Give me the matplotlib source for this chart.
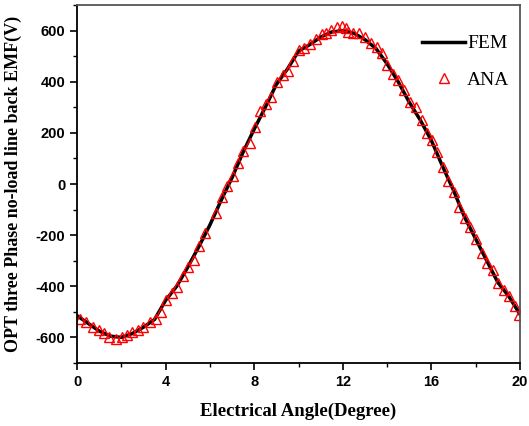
import numpy as np
import matplotlib.pyplot as plt

plt.rcParams['axes.unicode_minus'] = False

# FEM curve
fem_x = [0, 0.5, 1.0, 1.5, 2.0, 2.5, 3.0, 3.5, 4.0, 4.5, 5.0, 5.5, 6.0, 6.5, 7.0,
         7.5, 8.0, 8.5, 9.0, 9.5, 10.0, 10.5, 11.0, 11.5, 12.0, 12.5, 13.0, 13.5,
         14.0, 14.5, 15.0, 15.5, 16.0, 16.5, 17.0, 17.5, 18.0, 18.5, 19.0, 19.5, 20.0]
fem_y = [-515, -545, -575, -595, -600, -585, -560, -530, -455, -400, -325, -245,
         -160, -65, 25, 125, 215, 300, 390, 450, 520, 545, 575, 595, 600, 590, 565,
         530, 470, 400, 320, 250, 170, 70, -25, -130, -215, -300, -385, -440, -510]

# analytical points
ana_x = [0.15, 0.41, 0.71, 1.0, 1.23, 1.46, 1.76, 2.02, 2.24, 2.47, 2.74, 2.99,
         3.3, 3.57, 3.78, 4.02, 4.27, 4.5, 4.77, 5.03, 5.27, 5.5, 5.77, 6.28, 6.53,
         6.76, 7.02, 7.28, 7.51, 7.8, 8.04, 8.27, 8.51, 8.75, 9.05, 9.3, 9.54, 9.77,
         10.02, 10.25, 10.52, 10.79, 11.05, 11.24, 11.45, 11.72, 11.95, 12.14,
         12.25, 12.47, 12.75, 13.0, 13.26, 13.53, 13.76, 14.01, 14.25, 14.51,
         14.76, 15.03, 15.3, 15.56, 15.81, 16.01, 16.26, 16.51, 16.76, 17.02,
         17.26, 17.52, 17.74, 18.01, 18.27, 18.52, 18.77, 19.02, 19.28, 19.52,
         19.77, 19.95]
ana_y = [-527, -538, -560, -570, -581, -599, -607, -599, -589, -578, -570, -561,
         -538, -529, -500, -455, -428, -401, -359, -323, -297, -242, -193, -114,
         -52, -8, 31, 81, 131, 160, 222, 284, 312, 341, 398, 428, 444, 482, 526,
         534, 547, 569, 586, 591, 602, 614, 617, 612, 595, 589, 591, 575, 552, 536,
         513, 465, 430, 406, 367, 321, 300, 250, 200, 172, 124, 65, 13, -30, -89,
         -134, -169, -216, -268, -307, -336, -388, -414, -437, -477, -512]

fig = plt.figure(figsize=(5.29, 4.26), dpi=100)
ax = fig.add_axes([0.1456, 0.148, 0.8374, 0.840])

ax.plot(fem_x, fem_y, color='black', lw=2.5, label='FEM')
ax.plot(ana_x, ana_y, ls='none', marker='^', ms=7.5, mfc='none', mec='red',
        mew=1.0, label='ANA')

ax.set_xlim(0, 20)
ax.set_ylim(-700, 700)
ax.set_xticks(np.arange(0, 21, 4))
ax.set_xticks(np.arange(2, 20, 4), minor=True)
ax.set_yticks(np.arange(-600, 601, 200))
ax.set_yticks(np.arange(-700, 701, 200), minor=True)
ax.tick_params(which='major', direction='out', length=5, width=1.2,
               top=False, right=False)
ax.tick_params(which='minor', direction='out', length=3, width=1.0,
               top=False, right=False)
for lab in ax.get_xticklabels() + ax.get_yticklabels():
    lab.set_fontfamily('Liberation Sans')
    lab.set_fontweight('bold')
    lab.set_fontsize(10.5)
for sp in ax.spines.values():
    sp.set_linewidth(1.3)
ax.spines['right'].set_color('#555555')
ax.spines['top'].set_color('#555555')

ax.set_xlabel('Electrical Angle(Degree)', fontfamily='Liberation Serif',
              fontweight='bold', fontsize=13.5, labelpad=10)
ax.set_ylabel('OPT three Phase no-load line back EMF(V)',
              fontfamily='Liberation Serif', fontweight='bold', fontsize=13,
              labelpad=10)

ax.legend(loc='upper right', bbox_to_anchor=(1.007, 0.955), frameon=False,
          handlelength=2.2, handletextpad=0.1, labelspacing=0.95,
          borderaxespad=0.3,
          prop={'family': 'Liberation Serif', 'size': 14})

fig.savefig('out.png', dpi=100)
